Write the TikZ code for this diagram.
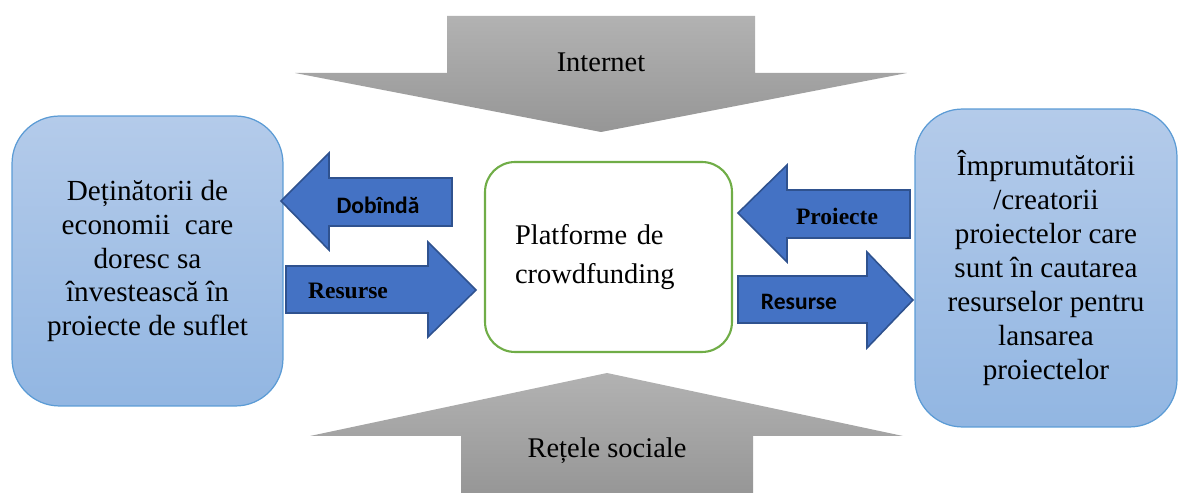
\documentclass[tikz,border=0pt]{standalone}
\usepackage{fontspec}
\setmainfont{Liberation Serif}
\newfontfamily\calibrifont{Carlito}

\definecolor{boxtop}{RGB}{180,203,234}
\definecolor{boxbot}{RGB}{146,182,226}
\definecolor{boxline}{RGB}{91,155,213}
\definecolor{arrowfill}{RGB}{68,114,196}
\definecolor{arrowline}{RGB}{47,82,143}
\definecolor{graytop}{RGB}{178,178,178}
\definecolor{graybot}{RGB}{150,150,150}
\definecolor{platgreen}{RGB}{112,173,71}

\tikzset{
  bluebox/.style={draw=boxline, line width=0.7pt, top color=boxtop, bottom color=boxbot,
    rounded corners=0.95cm, align=center, font=\fontsize{16.6}{19.3}\selectfont},
  platbox/.style={draw=platgreen, line width=1.2pt, fill=white, rounded corners=0.6cm,
    align=left, inner sep=0pt, font=\fontsize{16.2}{22.5}\selectfont},
  bigarrow/.style={draw=arrowline, line width=0.9pt, fill=arrowfill},
  grayarrow/.style={top color=graytop, bottom color=graybot},
  serifbold/.style={font=\fontsize{13.4}{16}\selectfont\bfseries},
  sansbold/.style={font=\fontsize{13.4}{16}\selectfont\calibrifont\bfseries},
  bigtext/.style={font=\fontsize{16.2}{21.5}\selectfont}
}

\begin{document}
\begin{tikzpicture}[x=0.02cm, y=-0.02cm]
    \useasboundingbox (0,0) rectangle (1178,493);

    % Gray arrows, top and bottom
    \shade[grayarrow] (447,16) -- (755,16) -- (755,73) -- (907,73) -- (601,132)
        -- (295,73) -- (447,73) -- cycle;
    \node[bigtext] (internet) at (601,62) {Internet};

    \shade[grayarrow] (461,495) -- (461,436) -- (310,436) -- (607,373) -- (903,436)
        -- (753,436) -- (753,495) -- cycle;
    \node[bigtext] (retele) at (607,451) {Rețele sociale};

    % The three boxes
    \node[bluebox, minimum width=5.42cm, minimum height=5.8cm] (detinatori) at (147.5,261)
        {Deținătorii de\\ economii\ \ care\\ doresc sa\\ învestească în\\ proiecte de suflet};
    \node[bluebox, minimum width=5.24cm, minimum height=6.36cm] (imprumutatori) at (1046,268)
        {Împrumutătorii\\ /creatorii\\ proiectelor care\\ sunt în cautarea\\ resurselor pentru\\ lansarea\\ proiectelor};
    \node[platbox, minimum width=4.94cm, minimum height=3.8cm, text width=3.74cm] (platforma) at (608.5,257)
        {Platforme de\\ crowdfunding};

    % Block arrows on the left
    \draw[bigarrow] (452,178) -- (329,178) -- (329,153) -- (281,201) -- (329,250)
        -- (329,226) -- (452,226) -- cycle;
    \node[sansbold] (dobinda) at (378,205) {Dobîndă};

    \draw[bigarrow] (286,266) -- (428,266) -- (428,242) -- (476,290) -- (428,337)
        -- (428,313) -- (286,313) -- cycle;
    \node[serifbold] (resurseSt) at (348,291) {Resurse};

    % Block arrows on the right
    \draw[bigarrow] (910,190) -- (787,190) -- (787,165) -- (738,213) -- (787,262)
        -- (787,238) -- (910,238) -- cycle;
    \node[serifbold] (proiecte) at (837,216) {Proiecte};

    \draw[bigarrow] (738,276) -- (867,276) -- (867,252) -- (913,300) -- (867,348)
        -- (867,323) -- (738,323) -- cycle;
    \node[sansbold] (resurseDr) at (799,302) {Resurse};
\end{tikzpicture}
\end{document}
